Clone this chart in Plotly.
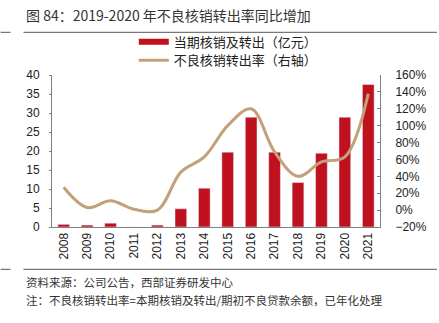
import plotly.graph_objects as go

years = [str(y) for y in range(2008, 2022)]
writeoff = [0.7, 0.5, 1.0, 0.0, 0.5, 4.8, 10.2, 19.7, 28.9, 19.7, 11.7, 19.4, 28.9, 37.5]
rate = [27, 3, 11, 1, 0, 45, 63, 100, 120, 69, 40, 57, 63, 138]

bar_name = "当期核销及转出（亿元）"
line_name = "不良核销转出率（右轴）"
title_text = "图 84：2019-2020 年不良核销转出率同比增加"
source_text = "资料来源：公司公告，西部证券研发中心"
note_text = "注：不良核销转出率=本期核销及转出/期初不良贷款余额，已年化处理"

RED = "#C0111F"
TAN = "#C4A07A"
W, H = 439, 323
L, R, T, B = 51.7, 381.7, 74.7, 226.7


def px(x):
    return (x - L) / (R - L)


def py(y):
    return (B - y) / (B - T)


fig = go.Figure()
fig.add_trace(go.Bar(x=years, y=writeoff, marker_color=RED, width=0.5,
                     showlegend=False, name=bar_name))
fig.add_trace(go.Scatter(x=years, y=rate, yaxis="y2", mode="lines",
                         line=dict(color=TAN, width=3, shape="spline", smoothing=1),
                         showlegend=False, name=line_name))
# legend proxies
fig.add_trace(go.Scatter(x=[None], y=[None], mode="lines", name=bar_name,
                         line=dict(color=RED, width=6), legend="legend"))
fig.add_trace(go.Scatter(x=[None], y=[None], mode="lines", name=line_name,
                         line=dict(color=TAN, width=3), legend="legend2"))

axis_font = dict(family="Liberation Sans, Arial, sans-serif", size=12, color="#222")
leg_font = dict(family="Noto Sans CJK SC, sans-serif", size=13, color="#222")
fig.update_layout(
    width=W, height=H,
    margin=dict(l=L, r=W - R, t=T, b=H - B, pad=0),
    paper_bgcolor="white", plot_bgcolor="white",
    font=dict(family="Noto Sans CJK SC, sans-serif", color="#222"),
    xaxis=dict(type="category", tickangle=-90, tickfont=axis_font, showgrid=False,
               showline=True, linecolor="#808080", linewidth=1, ticks=""),
    yaxis=dict(range=[0, 40], dtick=5, tickfont=axis_font, showgrid=False,
               showline=True, linecolor="#808080", ticks="outside", ticklen=2,
               tickcolor="#808080", zeroline=False, ticklabelstandoff=7),
    yaxis2=dict(range=[-20, 160], dtick=20, ticksuffix="%", overlaying="y", side="right",
                tickfont=axis_font, showgrid=False, showline=True, linecolor="#808080",
                ticks="inside", ticklen=3, tickcolor="#808080", zeroline=False,
                ticklabelstandoff=12),
    legend=dict(x=px(134), y=py(41.5), xanchor="left", yanchor="middle",
                bgcolor="rgba(0,0,0,0)", itemwidth=30, font=leg_font),
    legend2=dict(x=px(134), y=py(60), xanchor="left", yanchor="middle",
                 bgcolor="rgba(0,0,0,0)", itemwidth=30, font=leg_font),
    showlegend=True,
)

fig.add_annotation(text=title_text, xref="paper", yref="paper", x=px(24), y=py(15),
                   xanchor="left", yanchor="middle", showarrow=False,
                   font=dict(family="Noto Sans CJK SC, sans-serif", size=14, color="#333"))
fig.add_annotation(text=source_text, xref="paper", yref="paper", x=px(24), y=py(282),
                   xanchor="left", yanchor="middle", showarrow=False,
                   font=dict(family="Noto Sans CJK SC, sans-serif", size=11.5, color="#333"))
fig.add_annotation(text=note_text, xref="paper", yref="paper", x=px(24), y=py(300),
                   xanchor="left", yanchor="middle", showarrow=False,
                   font=dict(family="Noto Sans CJK SC, sans-serif", size=11.5, color="#333"))

for yy in (32, 269):
    fig.add_shape(type="line", xref="paper", yref="paper", x0=px(23), x1=px(439),
                  y0=py(yy), y1=py(yy), line=dict(color="#555", width=1))
    fig.add_shape(type="line", xref="paper", yref="paper", x0=px(0), x1=px(10),
                  y0=py(yy), y1=py(yy), line=dict(color="#555", width=1))

fig.write_html("out.html")
